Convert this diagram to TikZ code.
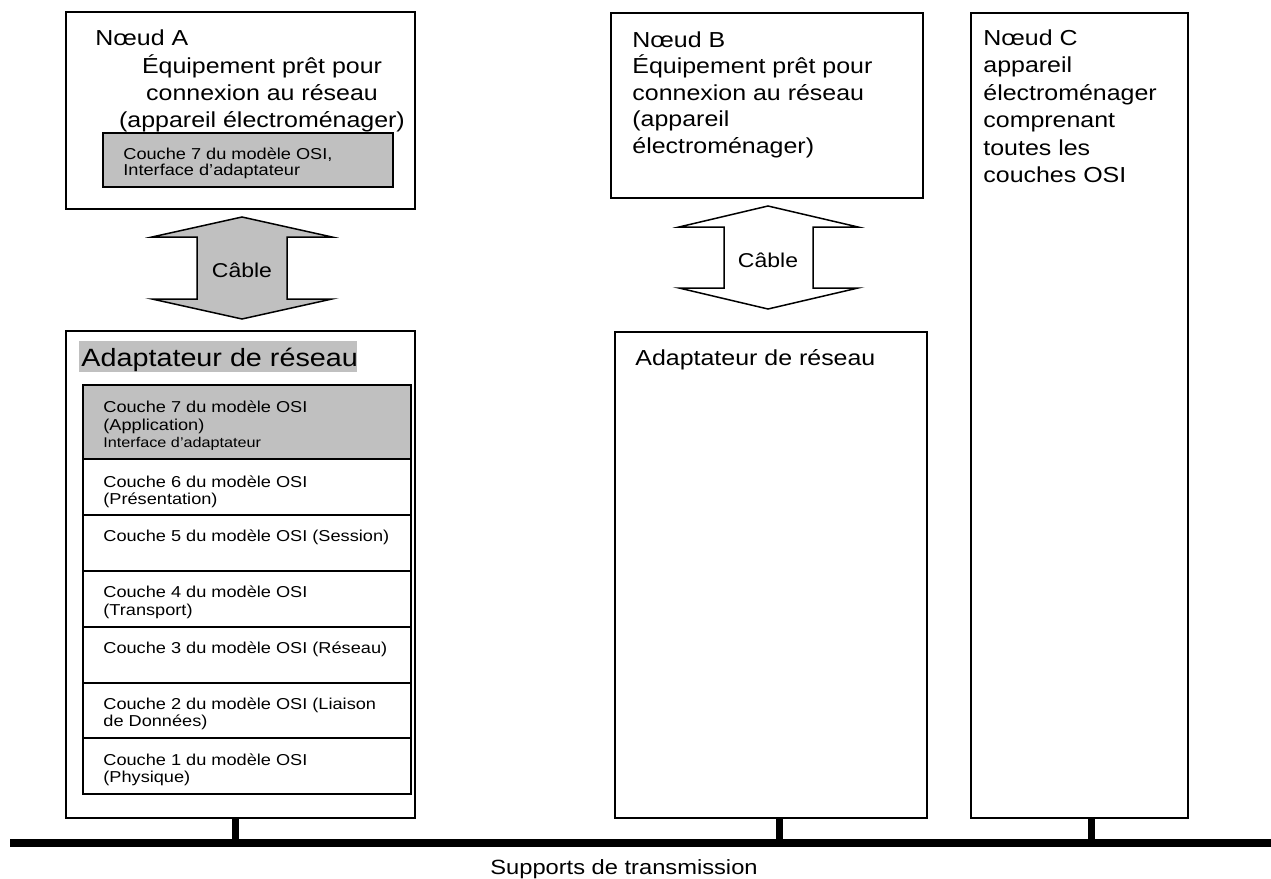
\documentclass[tikz,border=0pt]{standalone}
\usepackage{fontspec}
\setmainfont{Liberation Sans}[FakeStretch=1.15]
\usetikzlibrary{positioning}
\definecolor{gris}{RGB}{192,192,192}
\tikzset{
  boite/.style={draw, line width=1.5pt},
  cable/.style={draw, line width=1.5pt, line join=miter},
  txt/.style={inner sep=0pt, anchor=base west, font=\fontsize{21.7}{27}\selectfont},
  petit/.style={inner sep=0pt, anchor=base west, font=\fontsize{15.8}{18}\selectfont},
  stub/.style={line width=7pt},
  bus/.style={line width=8pt},
}

\begin{document}
\begin{tikzpicture}[x=1pt, y=-1pt, thick]
    \useasboundingbox (0,0) rectangle (1271,878);
    % Noeud A
    \coordinate (A1) at (66,12);
    \coordinate (A2) at (415,209);
    \draw[boite] (A1) rectangle (A2);
    \node[txt] (nA) at (95,45) {Nœud A};
    \node[txt, anchor=base] (eqA1) at (262,73) {Équipement prêt pour};
    \node[txt, anchor=base] (eqA2) at (262,100) {connexion au réseau};
    \node[txt, anchor=base] (eqA3) at (262,127) {(appareil électroménager)};
    \draw[boite, fill=gris] (103,133) rectangle (393,187);
    \node[petit] (ifA1) at (123,159) {Couche 7 du modèle OSI,};
    \node[petit] (ifA2) at (123,175) {Interface d'adaptateur};
    % cable A
    \draw[cable, fill=gris] (242,217) -- (332,237) -- (287,237) -- (287,299) -- (332,299)
        -- (242,319) -- (152,299) -- (197,299) -- (197,237) -- (152,237) -- cycle;
    \node[txt, anchor=base, font=\fontsize{20}{22}\selectfont] (cabA) at (242,277) {Câble};
    % adaptateur A
    \coordinate (D1) at (66,331);
    \coordinate (D2) at (415,818);
    \draw[boite] (D1) rectangle (D2);
    \fill[gris] (79,341) rectangle (357,372);
    \node[txt, font=\fontsize{25}{27}\selectfont] (adA) at (81,366) {Adaptateur de réseau};
    \draw[boite, fill=gris] (83,385) rectangle (411,459);
    \foreach \ya/\yb in {459/515, 515/571, 571/627, 627/683, 683/738, 738/794}
        \draw[boite] (83,\ya) rectangle (411,\yb);
    \foreach \y/\t [count=\i] in {412/Couche 7 du modèle OSI, 430/(Application),
        487/Couche 6 du modèle OSI, 504/(Présentation),
        541/Couche 5 du modèle OSI (Session),
        597/Couche 4 du modèle OSI, 615/(Transport),
        653/Couche 3 du modèle OSI (Réseau),
        709/Couche 2 du modèle OSI (Liaison, 726/de Données),
        765/Couche 1 du modèle OSI, 782/(Physique)}
        \node[petit] (l\i) at (103,\y) {\t};
    \node[petit, font=\fontsize{14.1}{16}\selectfont] (l7b) at (103,447) {Interface d'adaptateur};
    % Noeud B
    \coordinate (B1) at (611,13);
    \coordinate (B2) at (923,198);
    \draw[boite] (B1) rectangle (B2);
    \foreach \t [count=\i from 0] in {Nœud B, Équipement prêt pour, connexion au réseau,
        {(appareil}, {électroménager)}}
        \node[txt] (nB\i) at (632,47+26.5*\i) {\t};
    % cable B
    \draw[cable, fill=white] (768,206) -- (858,227) -- (813,227) -- (813,288) -- (858,288)
        -- (768,309) -- (679,288) -- (724,288) -- (724,227) -- (679,227) -- cycle;
    \node[txt, anchor=base, font=\fontsize{20}{22}\selectfont] (cabB) at (768,267) {Câble};
    % adaptateur B
    \coordinate (E1) at (615,332);
    \coordinate (E2) at (927,818);
    \draw[boite] (E1) rectangle (E2);
    \node[txt] (adB) at (635,365) {Adaptateur de réseau};
    % Noeud C
    \coordinate (C1) at (971,13);
    \coordinate (C2) at (1188,818);
    \draw[boite] (C1) rectangle (C2);
    \foreach \t [count=\i from 0] in {Nœud C, appareil, électroménager, comprenant,
        toutes les, couches OSI}
        \node[txt] (nC\i) at (983,45+27.5*\i) {\t};
    % supports de transmission
    \coordinate (bus1) at (10,843);
    \coordinate (bus2) at (1271,843);
    \foreach \x/\n in {235/A, 779/B, 1091/C} {
        \coordinate (s\n) at (\x,818);
        \coordinate (t\n) at (\x,843);
        \draw[stub] (s\n) -- (t\n);
    }
    \draw[bus] (bus1) -- (bus2);
    \node[txt, anchor=base, font=\fontsize{20.6}{22}\selectfont] (sup) at (624,874) {Supports de transmission};
\end{tikzpicture}
\end{document}
